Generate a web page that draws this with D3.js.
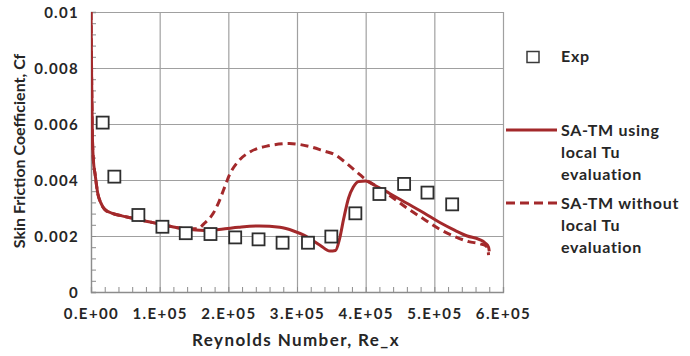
<!DOCTYPE html>
<html>
<head>
<meta charset="utf-8">
<script src="https://cdn.jsdelivr.net/npm/d3@7/dist/d3.min.js"></script>
<style>
  html, body { margin: 0; padding: 0; background: #fff; }
  svg { display: block; }
  text { font-family: Lato, "Open Sans", sans-serif; font-weight: bold; fill: #262626; }
</style>
</head>
<body>
<svg id="chart" width="690" height="356"></svg>
<script>
// Experimental skin friction measurements (Re_x, Cf)
const expRe = [17000, 34000, 69000, 104000, 138000, 174000, 210000, 244000, 279000, 316000, 350000, 385000, 420000, 456000, 490000, 526000];
const expCf = [0.00605, 0.00412, 0.00275, 0.00233, 0.00210, 0.00207, 0.00195, 0.00188, 0.00176, 0.00176, 0.00198, 0.00281, 0.00350, 0.00386, 0.00355, 0.00313];

// SA-TM with local Tu evaluation
const localRe = [0, 1000, 2000, 3500, 6000, 10000, 14000, 20000, 30000, 45000, 62000, 80000, 100000, 120000, 140000, 165000, 190000, 215000, 245000, 275000, 295000, 310000, 333000, 348000, 356000, 362000, 368000, 375000, 382000, 390000, 400000, 411000, 435000, 460000, 485000, 508000, 530000, 548000, 565000, 574000, 579000, 580000];
const localCf = [0.0100, 0.0075, 0.0056, 0.0047, 0.0042, 0.0035, 0.0032, 0.00295, 0.00282, 0.00272, 0.00263, 0.00253, 0.00243, 0.00232, 0.00224, 0.00220, 0.00224, 0.00231, 0.00236, 0.00231, 0.00218, 0.00203, 0.00168, 0.00146, 0.00148, 0.00190, 0.00262, 0.00335, 0.00375, 0.00395, 0.00396, 0.00384, 0.00352, 0.00317, 0.00282, 0.00248, 0.00220, 0.00200, 0.00188, 0.00175, 0.00160, 0.00145];

// SA-TM without local Tu evaluation
const globalRe = [0, 1000, 2000, 3500, 6000, 10000, 14000, 20000, 30000, 45000, 62000, 80000, 100000, 120000, 140000, 155000, 165000, 178000, 186000, 193000, 202000, 215000, 232000, 256000, 289000, 319000, 340000, 353000, 372000, 392000, 401000, 411000, 435000, 460000, 485000, 508000, 530000, 550000, 567000, 575000, 578000, 579000];
const globalCf = [0.0100, 0.0075, 0.0056, 0.0047, 0.0042, 0.0035, 0.0032, 0.00295, 0.00282, 0.00272, 0.00263, 0.00253, 0.00243, 0.00232, 0.00226, 0.00226, 0.00245, 0.00281, 0.00320, 0.00364, 0.00420, 0.00468, 0.00501, 0.00521, 0.00530, 0.00519, 0.00503, 0.00493, 0.00460, 0.00418, 0.00400, 0.00385, 0.00345, 0.00300, 0.00260, 0.00224, 0.00198, 0.00180, 0.00172, 0.00165, 0.00152, 0.00132];

const xTicks = [0, 100000, 200000, 300000, 400000, 500000, 600000];
const xTickLabels = ["0.E+00", "1.E+05", "2.E+05", "3.E+05", "4.E+05", "5.E+05", "6.E+05"];
const yTicks = [0, 0.002, 0.004, 0.006, 0.008, 0.01];
const yTickLabels = ["0", "0.002", "0.004", "0.006", "0.008", "0.01"];

const legendLabels = [["Exp"], ["SA-TM using", "local Tu", "evaluation"], ["SA-TM without", "local Tu", "evaluation"]];

const lineColor = "#a3292b";
const margin = { left: 91, top: 12, right: 187, bottom: 64 };
const W = 690, H = 356;
const iw = W - margin.left - margin.right;
const ih = H - margin.top - margin.bottom;

const svg = d3.select("#chart");
const g = svg.append("g").attr("transform", `translate(${margin.left},${margin.top})`);

const x = d3.scaleLinear().domain([0, 600000]).range([0, iw]);
const y = d3.scaleLinear().domain([0, 0.01]).range([ih, 0]);

// major grid lines
g.append("g")
  .attr("transform", `translate(0,${ih})`)
  .call(d3.axisBottom(x).tickValues(xTicks).tickSize(-ih).tickFormat(""))
  .call(s => s.select(".domain").remove())
  .call(s => s.selectAll("line").attr("stroke", "#a0a0a0").attr("stroke-width", 1.2));
g.append("g")
  .call(d3.axisLeft(y).tickValues(yTicks).tickSize(-iw).tickFormat(""))
  .call(s => s.select(".domain").remove())
  .call(s => s.selectAll("line").attr("stroke", "#a0a0a0").attr("stroke-width", 1.2));

// minor ticks pointing into the plot
const xMinor = d3.range(0, 600001, 20000);
const yMinor = d3.range(0, 0.01 + 1e-9, 0.0004);
g.append("g")
  .attr("transform", `translate(0,${ih})`)
  .call(d3.axisBottom(x).tickValues(xMinor).tickSize(-5).tickFormat(""))
  .call(s => s.select(".domain").attr("stroke", "#8c8c8c").attr("stroke-width", 1.3))
  .call(s => s.selectAll("line").attr("stroke", "#8c8c8c").attr("stroke-width", 1));
g.append("g")
  .call(d3.axisLeft(y).tickValues(yMinor).tickSize(-5).tickFormat(""))
  .call(s => s.select(".domain").attr("stroke", "#8c8c8c").attr("stroke-width", 1.3))
  .call(s => s.selectAll("line").attr("stroke", "#8c8c8c").attr("stroke-width", 1));

// tick labels
const xLab = g.append("g")
  .attr("transform", `translate(0,${ih})`)
  .call(d3.axisBottom(x).tickValues(xTicks).tickSize(0).tickPadding(0)
    .tickFormat((d, i) => xTickLabels[i]));
xLab.select(".domain").remove();
xLab.selectAll("text")
  .attr("y", 27).attr("dy", 0)
  .style("font-size", "15px").style("letter-spacing", "1.4px")
  .style("font-family", "Lato, sans-serif").style("font-weight", "bold").attr("fill", "#262626");

const yLab = g.append("g")
  .call(d3.axisLeft(y).tickValues(yTicks).tickSize(0).tickPadding(12)
    .tickFormat((d, i) => yTickLabels[i]));
yLab.select(".domain").remove();
yLab.selectAll("text")
  .attr("dy", "0.36em")
  .style("font-size", "15px").style("letter-spacing", "1.3px")
  .style("font-family", "Lato, sans-serif").style("font-weight", "bold").attr("fill", "#262626");

// axis titles
svg.append("text")
  .attr("x", 296).attr("y", 346)
  .attr("text-anchor", "middle")
  .style("font-size", "17px").style("letter-spacing", "1.4px")
  .text("Reynolds Number, Re_x");
svg.append("text")
  .attr("transform", `translate(25,${151}) rotate(-90)`)
  .attr("text-anchor", "middle")
  .style("font-size", "16px")
  .text("Skin Friction Coefficient, Cf");

// model curves
svg.append("defs").append("clipPath").attr("id", "plotClip")
  .append("rect").attr("x", 0).attr("y", 0).attr("width", iw).attr("height", ih);

const line = d3.line().x(d => x(d[0])).y(d => y(d[1])).curve(d3.curveMonotoneX);
const curves = g.append("g").attr("clip-path", "url(#plotClip)");
curves.append("path")
  .datum(d3.zip(globalRe, globalCf))
  .attr("d", line)
  .attr("fill", "none").attr("stroke", lineColor).attr("stroke-width", 3)
  .attr("stroke-dasharray", "8,5");
curves.append("path")
  .datum(d3.zip(localRe, localCf))
  .attr("d", line)
  .attr("fill", "none").attr("stroke", lineColor).attr("stroke-width", 3);

// experimental points
const sq = 12;
g.append("g").selectAll("rect")
  .data(d3.zip(expRe, expCf))
  .join("rect")
  .attr("x", d => x(d[0]) - sq / 2).attr("y", d => y(d[1]) - sq / 2)
  .attr("width", sq).attr("height", sq)
  .attr("fill", "#fff").attr("stroke", "#2e2e2e").attr("stroke-width", 1.8);

// legend
const lg = svg.append("g");
lg.append("rect")
  .attr("x", 527).attr("y", 51.5).attr("width", 12).attr("height", 11)
  .attr("fill", "#fff").attr("stroke", "#3a3a3a").attr("stroke-width", 1.5);
lg.append("line").attr("x1", 506).attr("x2", 557).attr("y1", 130).attr("y2", 130)
  .attr("stroke", lineColor).attr("stroke-width", 3);
lg.append("line").attr("x1", 506).attr("x2", 557).attr("y1", 203).attr("y2", 203)
  .attr("stroke", lineColor).attr("stroke-width", 3).attr("stroke-dasharray", "9,5");
const legendRows = [56.5, 130, 203];
legendLabels.forEach((lines, i) => {
  const t = lg.append("text")
    .attr("x", 561).attr("y", legendRows[i])
    .style("font-size", "16px").style("letter-spacing", "0.7px");
  lines.forEach((s, j) => {
    t.append("tspan").attr("x", 561).attr("dy", j === 0 ? "0.36em" : "22px").text(s);
  });
});
</script>
</body>
</html>
